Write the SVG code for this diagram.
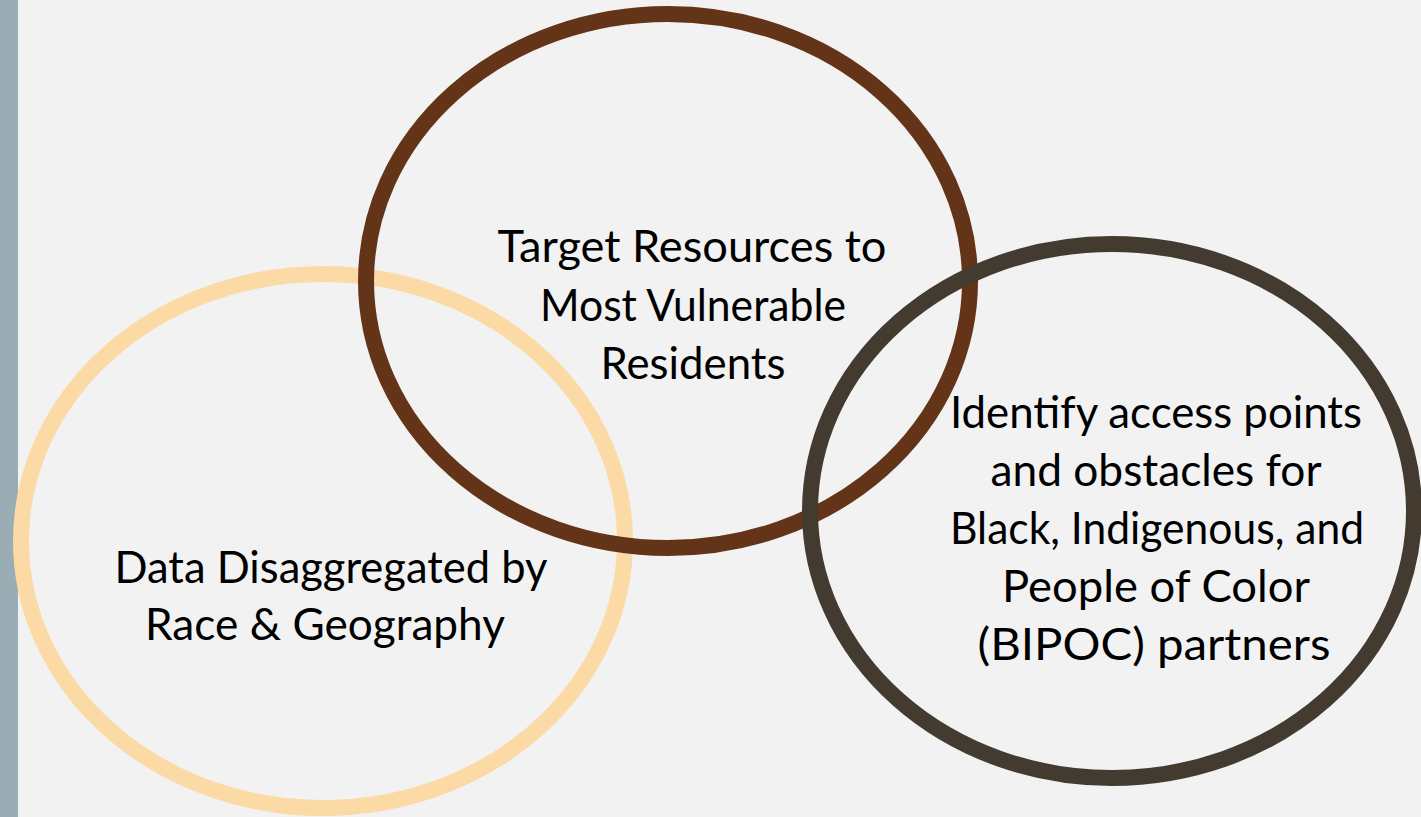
<svg xmlns="http://www.w3.org/2000/svg" width="1421" height="817" viewBox="0 0 1421 817">
  <style>
    .ring { fill: none; stroke-width: 16; }
    .lbl { font-family: "Lato", "Liberation Sans", sans-serif; font-size: 44px; fill: #000000; text-anchor: middle; }
  </style>
  <rect x="0" y="0" width="1421" height="817" fill="#f2f2f2"/>
  <rect x="0" y="0" width="18" height="817" fill="#9aadb4"/>
  <g id="node-data">
    <ellipse class="ring" cx="323" cy="541" rx="302" ry="267" stroke="#fcdaa6"/>
    <text class="lbl" x="331" y="583" textLength="433" lengthAdjust="spacingAndGlyphs">Data Disaggregated by</text>
    <text class="lbl" x="325" y="640" textLength="360" lengthAdjust="spacingAndGlyphs">Race &amp; Geography</text>
  </g>
  <g id="node-target">
    <ellipse class="ring" cx="668" cy="281" rx="302" ry="267" stroke="#643418"/>
    <text class="lbl" x="692" y="262" textLength="389" lengthAdjust="spacingAndGlyphs">Target Resources to</text>
    <text class="lbl" x="693" y="321" textLength="306" lengthAdjust="spacingAndGlyphs">Most Vulnerable</text>
    <text class="lbl" x="693" y="379" textLength="185" lengthAdjust="spacingAndGlyphs">Residents</text>
  </g>
  <g id="node-identify">
    <ellipse class="ring" cx="1112" cy="511" rx="302" ry="267" stroke="#433b2f"/>
    <text class="lbl" x="1156" y="428" textLength="412" lengthAdjust="spacingAndGlyphs">Identify access points</text>
    <text class="lbl" x="1156" y="486" textLength="331" lengthAdjust="spacingAndGlyphs">and obstacles for</text>
    <text class="lbl" x="1157" y="544" textLength="414" lengthAdjust="spacingAndGlyphs">Black, Indigenous, and</text>
    <text class="lbl" x="1156" y="602" textLength="308" lengthAdjust="spacingAndGlyphs">People of Color</text>
    <text class="lbl" x="1154" y="660" textLength="353" lengthAdjust="spacingAndGlyphs">(BIPOC) partners</text>
  </g>
  <g id="connectors"></g>
</svg>
